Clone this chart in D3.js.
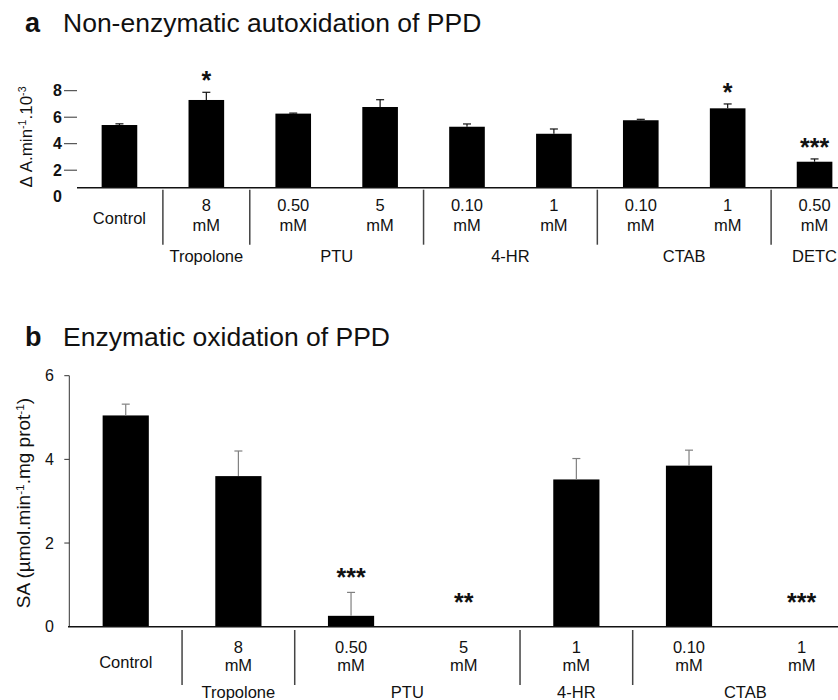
<!DOCTYPE html>
<html>
<head>
<meta charset="utf-8">
<script src="https://cdn.jsdelivr.net/npm/d3@7/dist/d3.min.js"></script>
<style>
  html, body { margin: 0; padding: 0; background: #fff; }
  svg { display: block; }
  text { font-family: "Liberation Sans", Arial, Helvetica, sans-serif; fill: #111; }
</style>
</head>
<body>
<svg id="chart" width="838" height="700"></svg>
<script>
// ---------- Panel a data ----------
const aGroups = ["Control", "Tropolone", "PTU", "PTU", "4-HR", "4-HR", "CTAB", "CTAB", "DETC"];
const aConc   = ["", "8", "0.50", "5", "0.10", "1", "0.10", "1", "0.50"];
const aMean   = [5.41, 7.30, 6.27, 6.77, 5.28, 4.75, 5.77, 6.67, 2.64];
const aErr    = [0.09, 0.58, 0.04, 0.55, 0.21, 0.36, 0.07, 0.33, 0.21];
const aSig    = ["", "*", "", "", "", "", "", "*", "***"];
const aTicks  = [0, 2, 4, 6, 8];

// ---------- Panel b data ----------
const bGroups = ["Control", "Tropolone", "PTU", "PTU", "4-HR", "CTAB", "CTAB"];
const bConc   = ["", "8", "0.50", "5", "1", "0.10", "1"];
const bMean   = [5.05, 3.60, 0.26, 0, 3.52, 3.85, 0];
const bErr    = [0.27, 0.60, 0.56, 0, 0.50, 0.37, 0];
const bSig    = ["", "", "***", "**", "", "", "***"];
const bTicks  = [0, 2, 4, 6];

const svg = d3.select("#chart");

function drawPanel(cfg) {
  const g = svg.append("g");
  const n = cfg.groups.length;
  const idx = d3.range(n);
  const x = d3.scaleBand().domain(idx).range(cfg.xRange).paddingInner(0.59).paddingOuter(0.295);
  const y = d3.scaleLinear().domain(cfg.yDomain).range(cfg.yRange);
  const base = y(0) - cfg.baseShift;
  const cx = i => x(i) + x.bandwidth() / 2;

  // title
  g.append("text").attr("x", 25).attr("y", cfg.titleY)
    .attr("font-size", 27).attr("font-weight", "bold").text(cfg.letter);
  g.append("text").attr("x", 63).attr("y", cfg.titleY)
    .attr("font-size", 26.5).text(cfg.title);

  // y axis
  if (cfg.yLine) {
    g.append("line").attr("x1", cfg.yAxisX).attr("x2", cfg.yAxisX)
      .attr("y1", y(cfg.yDomain[1])).attr("y2", base)
      .attr("stroke", "#333").attr("stroke-width", 1);
  }
  cfg.ticks.forEach(t => {
    if (y(t) < base - 1) {
      g.append("line").attr("x1", cfg.yAxisX - cfg.tickLen).attr("x2", cfg.yAxisX)
        .attr("y1", y(t)).attr("y2", y(t)).attr("stroke", "#333").attr("stroke-width", 1);
    }
    g.append("text").attr("x", cfg.tickLabelX).attr("y", y(t) + cfg.tickFont * 0.36)
      .attr("text-anchor", "end").attr("font-size", cfg.tickFont)
      .attr("font-weight", cfg.tickBold ? "bold" : "normal").text(t);
  });

  // y axis title
  const yl = g.append("text")
    .attr("transform", `translate(${cfg.yTitleX},${cfg.yTitleY}) rotate(-90)`)
    .attr("text-anchor", "middle").attr("font-size", cfg.yTitleFont);
  cfg.yTitleParts.forEach(p => {
    const ts = yl.append("tspan").text(p.t);
    if (p.sup) ts.attr("baseline-shift", "super").attr("font-size", cfg.yTitleFont * 0.62);
  });

  // bars
  g.selectAll("rect.bar").data(idx.filter(i => cfg.mean[i] > 0)).join("rect")
    .attr("class", "bar")
    .attr("x", i => x(i)).attr("width", x.bandwidth())
    .attr("y", i => y(cfg.mean[i])).attr("height", i => base - y(cfg.mean[i]))
    .attr("fill", "#000");

  // error bars
  idx.filter(i => cfg.err[i] > 0).forEach(i => {
    const top = y(cfg.mean[i] + cfg.err[i]);
    g.append("line").attr("x1", cx(i)).attr("x2", cx(i))
      .attr("y1", y(cfg.mean[i])).attr("y2", top)
      .attr("stroke", cfg.errColor).attr("stroke-width", 1.2);
    g.append("line").attr("x1", cx(i) - 4).attr("x2", cx(i) + 4)
      .attr("y1", top).attr("y2", top)
      .attr("stroke", cfg.errColor).attr("stroke-width", 1.2);
  });

  // significance stars
  idx.filter(i => cfg.sig[i]).forEach(i => {
    const yy = Math.min(y(cfg.mean[i] + cfg.err[i]) - cfg.starGap, base - cfg.starMinGap);
    g.append("text").attr("x", cx(i)).attr("y", yy)
      .attr("text-anchor", "middle").attr("font-size", 25).attr("font-weight", "bold")
      .text(cfg.sig[i]);
  });

  // x axis line
  g.append("line").attr("x1", cfg.xAxisStart).attr("x2", 838)
    .attr("y1", base).attr("y2", base).attr("stroke", "#111").attr("stroke-width", 1.5);

  // category labels
  idx.forEach(i => {
    if (cfg.conc[i] === "") {
      g.append("text").attr("x", cx(i)).attr("y", base + cfg.ctrlDy)
        .attr("text-anchor", "middle").attr("font-size", 16.5).text(cfg.groups[i]);
    } else {
      g.append("text").attr("x", cx(i)).attr("y", base + cfg.sub1Dy)
        .attr("text-anchor", "middle").attr("font-size", 16.5).text(cfg.conc[i]);
      g.append("text").attr("x", cx(i)).attr("y", base + cfg.sub2Dy)
        .attr("text-anchor", "middle").attr("font-size", 16.5).text("mM");
    }
  });

  // separators between groups
  for (let i = 0; i < n - 1; i++) {
    if (cfg.groups[i] !== cfg.groups[i + 1]) {
      const sx = cx(i) + x.step() / 2;
      g.append("line").attr("x1", sx).attr("x2", sx)
        .attr("y1", base + cfg.sepTop).attr("y2", base + cfg.sepBot)
        .attr("stroke", "#444").attr("stroke-width", 1.5);
    }
  }

  // group labels
  const grouped = d3.groups(idx.filter(i => cfg.conc[i] !== ""), i => cfg.groups[i]);
  grouped.forEach(([name, members]) => {
    const gx = d3.mean(members, cx);
    g.append("text").attr("x", gx).attr("y", base + cfg.groupDy)
      .attr("text-anchor", "middle").attr("font-size", 16.5).text(name);
  });
}

drawPanel({
  letter: "a", title: "Non-enzymatic autoxidation of PPD", titleY: 32,
  groups: aGroups, conc: aConc, mean: aMean, err: aErr, sig: aSig, ticks: aTicks,
  xRange: [76, 858], yDomain: [0, 8], yRange: [196.7, 90.7], baseShift: 9,
  yLine: false, yAxisX: 77, tickLen: 13, tickLabelX: 62, tickFont: 16, tickBold: true,
  yTitleX: 32, yTitleY: 137, yTitleFont: 17,
  yTitleParts: [{t: "\u0394 A.min"}, {t: "-1", sup: true}, {t: ".10"}, {t: "-3", sup: true}],
  errColor: "#111", starGap: 3, starMinGap: 16,
  xAxisStart: 77,
  sub1Dy: 23, sub2Dy: 43, ctrlDy: 36.5, groupDy: 74, sepTop: 2, sepBot: 57
});

drawPanel({
  letter: "b", title: "Enzymatic oxidation of PPD", titleY: 345.5,
  groups: bGroups, conc: bConc, mean: bMean, err: bErr, sig: bSig, ticks: bTicks,
  xRange: [69.4, 858], yDomain: [0, 6], yRange: [626.7, 375.7], baseShift: 0,
  yLine: true, yAxisX: 69.3, tickLen: 5, tickLabelX: 54, tickFont: 16, tickBold: false,
  yTitleX: 30, yTitleY: 503, yTitleFont: 19,
  yTitleParts: [{t: "SA (\u00b5mol.min"}, {t: "-1", sup: true}, {t: ".mg prot"}, {t: "-1", sup: true}, {t: ")"}],
  errColor: "#808080", starGap: 6, starMinGap: 16,
  xAxisStart: 68,
  sub1Dy: 26.3, sub2Dy: 44.3, ctrlDy: 41, groupDy: 71.3, sepTop: 3.3, sepBot: 58.3
});
</script>
</body>
</html>
